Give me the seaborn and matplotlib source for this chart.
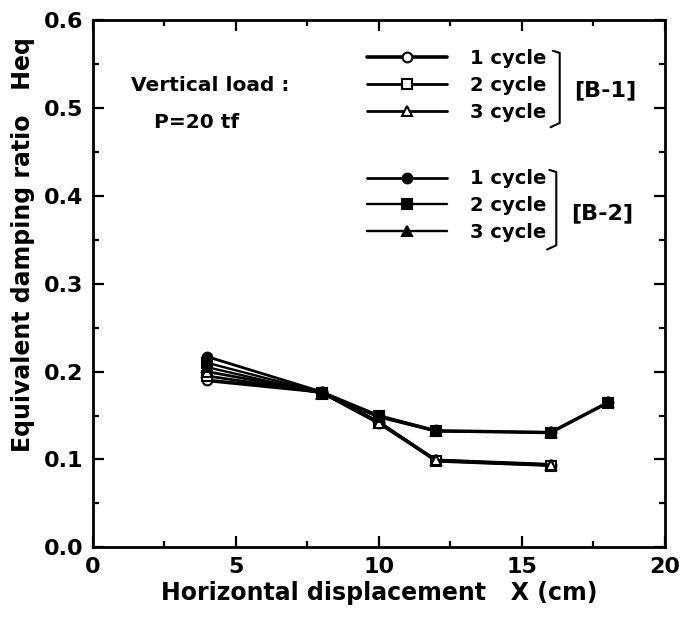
import matplotlib
matplotlib.use("Agg")
import matplotlib.pyplot as plt
import numpy as np
import pandas as pd
import seaborn as sns

sns.set_theme(style="ticks")
plt.rcParams["font.family"] = ["DejaVu Sans"]
plt.rcParams["font.weight"] = "bold"
plt.rcParams["text.color"] = "black"
plt.rcParams["axes.labelcolor"] = "black"
plt.rcParams["xtick.color"] = "black"
plt.rcParams["ytick.color"] = "black"

# Horizontal displacement X (cm)
x_b1 = [4, 8, 10, 12, 16]
x_b2 = [4, 8, 10, 12, 16, 18]

# Equivalent damping ratio Heq, specimen B-1
b1_cycle1 = [0.190, 0.177, 0.142, 0.099, 0.094]
b1_cycle2 = [0.195, 0.176, 0.143, 0.098, 0.093]
b1_cycle3 = [0.200, 0.176, 0.141, 0.099, 0.094]

# Equivalent damping ratio Heq, specimen B-2
b2_cycle1 = [0.217, 0.177, 0.150, 0.133, 0.131, 0.165]
b2_cycle2 = [0.210, 0.176, 0.149, 0.132, 0.130, 0.164]
b2_cycle3 = [0.205, 0.175, 0.148, 0.132, 0.131, 0.165]

cycle_labels = ["1 cycle", "2 cycle", "3 cycle"]
group_labels = ["[B-1]", "[B-2]"]

fig = plt.figure(figsize=(6.92, 6.32), dpi=100)
ax = fig.add_axes([0.134, 0.134, 0.827, 0.834])

styles_b1 = [
    dict(marker="o", markerfacecolor="white", lw=2.6),
    dict(marker="s", markerfacecolor="white", lw=2.0),
    dict(marker="^", markerfacecolor="white", lw=2.0),
]
styles_b2 = [
    dict(marker="o", markerfacecolor="black", lw=2.0),
    dict(marker="s", markerfacecolor="black", lw=1.7),
    dict(marker="^", markerfacecolor="black", lw=1.7),
]

handles_b1, handles_b2 = [], []
for ys, lab, st in zip([b1_cycle1, b1_cycle2, b1_cycle3], cycle_labels, styles_b1):
    df = pd.DataFrame({"x": x_b1, "y": ys})
    sns.lineplot(data=df, x="x", y="y", ax=ax, color="black", markersize=7,
                 markeredgecolor="black", markeredgewidth=1.5, label=lab, **st)
    handles_b1.append(ax.lines[-1])
for ys, lab, st in zip([b2_cycle1, b2_cycle2, b2_cycle3], cycle_labels, styles_b2):
    df = pd.DataFrame({"x": x_b2, "y": ys})
    sns.lineplot(data=df, x="x", y="y", ax=ax, color="black", markersize=7,
                 markeredgecolor="black", markeredgewidth=1.5, label=lab, **st)
    handles_b2.append(ax.lines[-1])

ax.set_xlim(0, 20)
ax.set_ylim(0, 0.6)
ax.set_xticks([0, 5, 10, 15, 20])
ax.set_yticks(np.arange(0, 0.61, 0.1))
ax.set_yticklabels([f"{v:.1f}" for v in np.arange(0, 0.61, 0.1)])
ax.set_xticks(np.arange(0, 20.1, 2.5), minor=True)
ax.set_yticks(np.arange(0, 0.61, 0.05), minor=True)
ax.tick_params(which="both", direction="in", top=True, right=True,
               width=1.6, labelsize=16, pad=7)
ax.tick_params(which="major", length=8)
ax.tick_params(which="minor", length=4)
for lbl in ax.get_xticklabels() + ax.get_yticklabels():
    lbl.set_fontweight("bold")
for sp in ax.spines.values():
    sp.set_linewidth(2)
    sp.set_color("black")

ax.set_xlabel("Horizontal displacement   X (cm)", fontsize=17, fontweight="bold", labelpad=3)
ax.set_ylabel("Equivalent damping ratio   Heq", fontsize=17, fontweight="bold")
ax.yaxis.set_label_coords(-0.101, 0.575)

ax.text(1.35, 0.526, "Vertical load :", fontsize=14.5, fontweight="bold", va="center")
ax.text(2.15, 0.484, "P=20 tf", fontsize=14.5, fontweight="bold", va="center")

leg_kw = dict(frameon=False, handlelength=4.1, handletextpad=1.2, labelspacing=0.4,
              numpoints=1, borderpad=0, borderaxespad=0, loc="upper left",
              prop={"size": 14, "weight": "bold"})
leg1 = ax.legend(handles=handles_b1, labels=cycle_labels,
                 bbox_to_anchor=(0.479, 0.945), **leg_kw)
ax.add_artist(leg1)
leg2 = ax.legend(handles=handles_b2, labels=cycle_labels,
                 bbox_to_anchor=(0.479, 0.717), **leg_kw)

# brackets grouping the cycles of each specimen
for (xb, ytop, ybot), glab, ylab in zip(
        [(0.816, 0.938, 0.797), (0.810, 0.712, 0.565)], group_labels, [0.867, 0.634]):
    ax.plot([xb - 0.012, xb, xb, xb - 0.016], [ytop + 0.004, ytop, ybot + 0.008, ybot],
            transform=ax.transAxes, color="black", lw=1.5, clip_on=False)
    ax.text(xb + 0.026, ylab, glab, transform=ax.transAxes, fontsize=16,
            fontweight="bold", va="center")

fig.savefig("out.png", dpi=100)
